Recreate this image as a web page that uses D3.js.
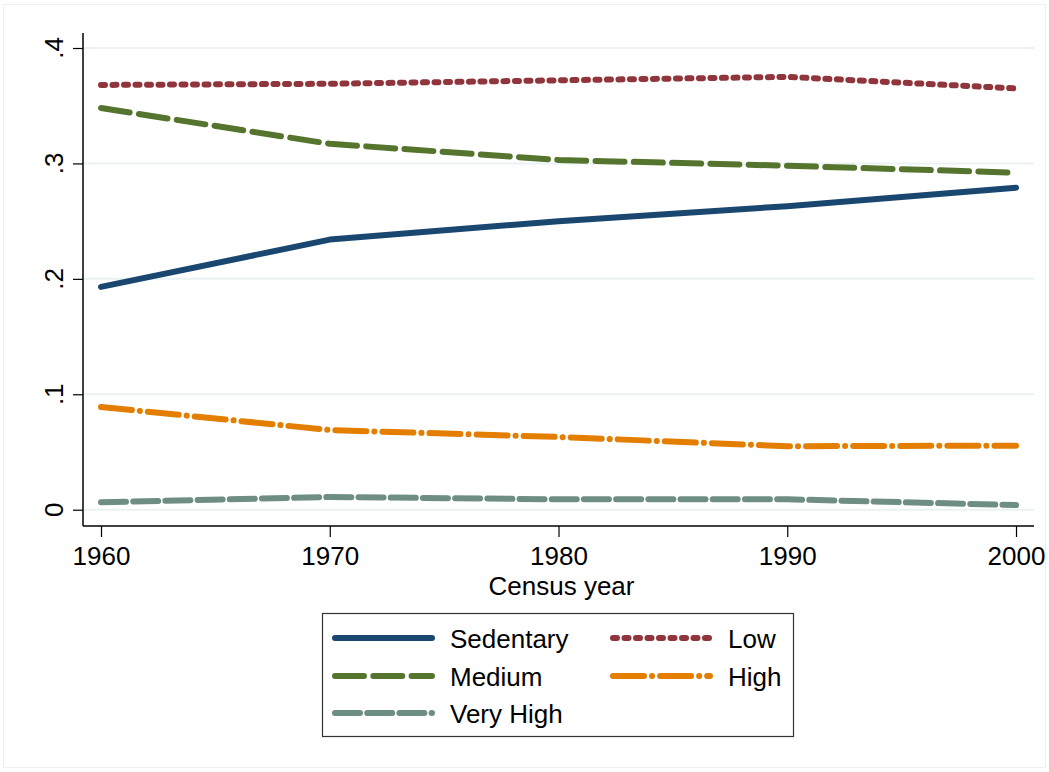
<!DOCTYPE html>
<html lang="en">
<head>
    <meta charset="UTF-8">
    <title>Census year shares</title>
    <script src="https://cdn.jsdelivr.net/npm/d3@7"></script>
    <style>
        * { margin: 0; padding: 0; }
        body { background: #fff; }
        text { font-family: "Liberation Sans", Arial, sans-serif; fill: #000; }
    </style>
</head>
<body>
    <div id="chart"></div>
    <script>
        // data
        const years = [1960, 1970, 1980, 1990, 2000];
        const sedentary = [0.193, 0.234, 0.250, 0.263, 0.279];
        const low = [0.368, 0.369, 0.372, 0.375, 0.365];
        const medium = [0.348, 0.317, 0.303, 0.298, 0.292];
        const high = [0.089, 0.069, 0.063, 0.055, 0.0555];
        const veryHigh = [0.0065, 0.011, 0.009, 0.009, 0.004];
        const yTicks = [0, 0.1, 0.2, 0.3, 0.4];
        const yTickLabels = ['0', '.1', '.2', '.3', '.4'];

        const width = 1049, height = 772;

        // plot region
        const plot = { left: 83, right: 1034, top: 33, bottom: 526 };

        const svg = d3.select('#chart').append('svg')
            .attr('width', width)
            .attr('height', height);

        svg.append('rect')
            .attr('width', width).attr('height', height)
            .attr('fill', '#fff');

        // faint outer frame of the graph region
        svg.append('rect')
            .attr('x', 3.5).attr('y', 4.5)
            .attr('width', width - 7).attr('height', height - 9)
            .attr('fill', 'none')
            .attr('stroke', '#eef1f3')
            .attr('stroke-width', 1);

        const x = d3.scaleLinear().domain([1960, 2000]).range([101, 1016]);
        const y = d3.scaleLinear().domain([0, 0.4]).range([509.7, 48]);

        // gridlines
        svg.append('g').selectAll('line')
            .data(yTicks)
            .enter().append('line')
            .attr('x1', plot.left).attr('x2', plot.right)
            .attr('y1', d => y(d)).attr('y2', d => y(d))
            .attr('stroke', '#eaf2f3')
            .attr('stroke-width', 2);

        // y axis
        const yAxisG = svg.append('g')
            .attr('transform', `translate(${plot.left},0)`)
            .call(d3.axisLeft(y).tickValues(yTicks).tickSize(10).tickFormat(''));
        yAxisG.select('.domain').remove();
        yAxisG.selectAll('line').attr('stroke', '#000').attr('stroke-width', 1.2);
        svg.append('line')
            .attr('x1', plot.left).attr('x2', plot.left)
            .attr('y1', plot.top).attr('y2', plot.bottom)
            .attr('stroke', '#000').attr('stroke-width', 1.5);

        svg.append('g').selectAll('text')
            .data(yTicks)
            .enter().append('text')
            .attr('transform', d => `translate(63,${y(d)}) rotate(-90)`)
            .attr('text-anchor', 'middle')
            .attr('font-size', 26)
            .text((d, i) => yTickLabels[i]);

        // x axis
        const xAxisG = svg.append('g')
            .attr('transform', `translate(0,${plot.bottom})`)
            .call(d3.axisBottom(x).tickValues(years).tickSize(11).tickFormat(d3.format('d')));
        xAxisG.select('.domain').remove();
        xAxisG.selectAll('line').attr('stroke', '#000').attr('stroke-width', 1.2);
        xAxisG.selectAll('text')
            .attr('font-size', 26)
            .attr('font-family', '"Liberation Sans", Arial, sans-serif')
            .attr('fill', '#000')
            .attr('y', 0)
            .attr('dy', 0)
            .attr('transform', 'translate(0,39)');
        svg.append('line')
            .attr('x1', plot.left).attr('x2', plot.right)
            .attr('y1', plot.bottom).attr('y2', plot.bottom)
            .attr('stroke', '#000').attr('stroke-width', 1.5);

        svg.append('text')
            .attr('x', (plot.left + plot.right) / 2 + 3)
            .attr('y', 595)
            .attr('text-anchor', 'middle')
            .attr('font-size', 26)
            .text('Census year');

        // series
        const series = [
            { name: 'Sedentary', values: sedentary, color: '#1a476f', dash: null },
            { name: 'Low', values: low, color: '#90353b', dash: '4 7.5' },
            { name: 'Medium', values: medium, color: '#55752f', dash: '29 9.3' },
            { name: 'High', values: high, color: '#e37e00', dash: '31 8 0.1 8' },
            { name: 'Very High', values: veryHigh, color: '#6e8e84', dash: '25 7.2' }
        ];

        const line = d3.line()
            .x((d, i) => x(years[i]))
            .y(d => y(d));

        svg.append('g').selectAll('path')
            .data(series)
            .enter().append('path')
            .attr('d', d => line(d.values))
            .attr('fill', 'none')
            .attr('stroke', d => d.color)
            .attr('stroke-width', 6)
            .attr('stroke-linecap', 'round')
            .attr('stroke-linejoin', 'round')
            .attr('stroke-dasharray', d => d.dash);

        // legend
        const legend = svg.append('g');
        legend.append('rect')
            .attr('x', 322.5).attr('y', 613.5)
            .attr('width', 471).attr('height', 123)
            .attr('fill', '#fff')
            .attr('stroke', '#333')
            .attr('stroke-width', 1.2);

        const legendOrder = ['Sedentary', 'Low', 'Medium', 'High', 'Very High'];
        const rowY = [638, 676, 713];
        const colX = [332, 610];

        legendOrder.forEach((name, i) => {
            const s = series.find(d => d.name === name);
            const cx = colX[i % 2];
            const cy = rowY[Math.floor(i / 2)];
            legend.append('line')
                .attr('x1', cx + 3).attr('x2', cx + 100)
                .attr('y1', cy).attr('y2', cy)
                .attr('stroke', s.color)
                .attr('stroke-width', 6)
                .attr('stroke-linecap', 'round')
                .attr('stroke-dasharray', s.dash);
            legend.append('text')
                .attr('x', cx + 118)
                .attr('y', cy + 9.5)
                .attr('font-size', 26)
                .text(name);
        });
    </script>
</body>
</html>
